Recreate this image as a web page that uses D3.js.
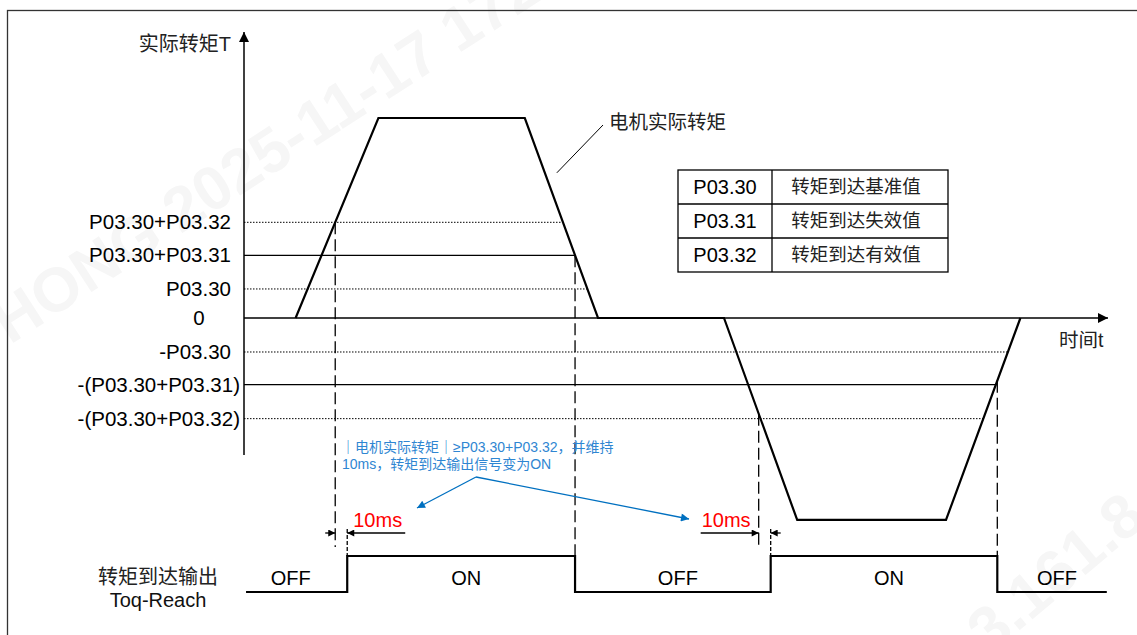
<!DOCTYPE html>
<html>
<head>
<meta charset="utf-8">
<script src="https://cdn.jsdelivr.net/npm/d3@7"></script>
<style>
  body { margin: 0; background: #fff; }
  text { font-family: "Liberation Sans", Arial, "Noto Sans CJK SC", sans-serif; }
</style>
</head>
<body>
<script>
// torque levels (arbitrary torque units)
var levelNames = ["P03.30+P03.32", "P03.30+P03.31", "P03.30", "0",
                  "-P03.30", "-(P03.30+P03.31)", "-(P03.30+P03.32)"];
var levelValues = [2.9, 1.9, 0.88, 0, -1.03, -2.02, -3.05];

// motor torque curve, time in ms
var torqueTime  = [43, 112, 234, 295, 400, 461, 585, 647];
var torqueValue = [0, 6.06, 6.06, 0, 0, -6.12, -6.12, 0];

var delayMs = 10;
var onLevel = 2.9;    // P03.30+P03.32
var offLevel = 1.9;   // P03.30+P03.31

var tableParams = ["P03.30", "P03.31", "P03.32"];
var tableDescs  = ["转矩到达基准值", "转矩到达失效值", "转矩到达有效值"];

var W = 1137, H = 635;

var svg = d3.select("body").append("svg")
    .attr("width", W)
    .attr("height", H);

var x = d3.scaleLinear().domain([0, 720]).range([244, 1108]);
var y = d3.scaleLinear().domain([0, 1]).range([318, 285]);
var ySig = d3.scaleLinear().domain([0, 1]).range([592, 556]);

// faint watermark
svg.append("text")
    .attr("transform", "translate(10,345) rotate(-33)")
    .attr("font-size", 62)
    .attr("font-weight", "bold")
    .attr("fill", "#f6f6f6")
    .text("HONG 2025-11-17 172");
svg.append("text")
    .attr("transform", "translate(990,655) rotate(-40)")
    .attr("font-size", 62)
    .attr("font-weight", "bold")
    .attr("fill", "#f6f6f6")
    .text("3.161.8.1");

// outer frame
svg.append("rect")
    .attr("x", 7.5).attr("y", 10.5)
    .attr("width", W + 20).attr("height", H + 20)
    .attr("fill", "none")
    .attr("stroke", "#333")
    .attr("stroke-width", 1.3);

var defs = svg.append("defs");
function marker(id, color, w, h) {
  defs.append("marker")
      .attr("id", id)
      .attr("viewBox", "0 0 10 10")
      .attr("refX", 10).attr("refY", 5)
      .attr("markerUnits", "userSpaceOnUse")
      .attr("markerWidth", w).attr("markerHeight", h)
      .attr("orient", "auto")
    .append("path")
      .attr("d", "M0,0L10,5L0,10Z")
      .attr("fill", color);
}
marker("axArrow", "#000", 12, 10);
marker("smArrow", "#000", 8, 7);
marker("blArrow", "#0070c0", 10, 8);

// crossing time of a level on segment i of the torque curve
function crossing(v, i) {
  var v0 = torqueValue[i], v1 = torqueValue[i + 1];
  var t0 = torqueTime[i], t1 = torqueTime[i + 1];
  return t0 + (v - v0) / (v1 - v0) * (t1 - t0);
}

// level lines, from the axis to the last edge they meet
levelValues.forEach(function(v, i) {
  var name = levelNames[i];
  var solid = name.indexOf("P03.31") >= 0;
  if (v !== 0) {
    var tEnd = v > 0 ? crossing(v, 2) : crossing(v, 6);
    svg.append("line")
        .attr("x1", x(0)).attr("x2", x(tEnd))
        .attr("y1", y(v)).attr("y2", y(v))
        .attr("stroke", "#000")
        .attr("stroke-width", solid ? 1.2 : 1)
        .attr("stroke-dasharray", solid ? null : "1.5,1.5");
  }
  var lab = svg.append("text")
      .attr("y", y(v))
      .attr("dy", "0.35em")
      .attr("font-size", 20.5)
      .text(name);
  if (v === 0) {
    lab.attr("x", 199).attr("text-anchor", "middle");
  } else {
    lab.attr("x", name.indexOf("(") >= 0 ? 240 : 231).attr("text-anchor", "end");
  }
});

// axes
svg.append("line")
    .attr("x1", x(0)).attr("x2", x(0))
    .attr("y1", 455).attr("y2", 32)
    .attr("stroke", "#000").attr("stroke-width", 1.5)
    .attr("marker-end", "url(#axArrow)");
svg.append("line")
    .attr("x1", x(0)).attr("x2", x(720))
    .attr("y1", y(0)).attr("y2", y(0))
    .attr("stroke", "#000").attr("stroke-width", 1.5)
    .attr("marker-end", "url(#axArrow)");
svg.append("text")
    .attr("x", 231).attr("y", 44).attr("dy", "0.35em")
    .attr("text-anchor", "end").attr("font-size", 20).attr("fill", "#222")
    .text("实际转矩T");
svg.append("text")
    .attr("x", 1059).attr("y", 340).attr("dy", "0.35em")
    .attr("font-size", 19.5).attr("fill", "#222")
    .text("时间t");

// torque curve
var torqueLine = d3.line()
    .x(function(d, i) { return x(torqueTime[i]); })
    .y(function(d) { return y(d); });
svg.append("path")
    .datum(torqueValue)
    .attr("d", torqueLine)
    .attr("fill", "none")
    .attr("stroke", "#000")
    .attr("stroke-width", 2.2)
    .attr("stroke-linejoin", "miter");

// leader to curve label
var tLead = crossing(4.4, 2);
svg.append("line")
    .attr("x1", x(tLead) + 12).attr("y1", y(4.4))
    .attr("x2", 603).attr("y2", 125)
    .attr("stroke", "#000").attr("stroke-width", 1);
svg.append("text")
    .attr("x", 609).attr("y", 122).attr("dy", "0.35em")
    .attr("font-size", 19.5).attr("fill", "#222")
    .text("电机实际转矩");

// switching events
var tOn1 = crossing(onLevel, 0);
var tOff1 = crossing(offLevel, 2);
var tOn2 = crossing(-onLevel, 4);
var tOff2 = crossing(-offLevel, 6);
var tStart = 1.7, tEnd = 719;
var sigTimes = [tStart, tOn1 + delayMs, tOff1, tOn2 + delayMs, tOff2, tEnd];
var sigStates = [0, 1, 0, 1, 0];

var sigPts = [];
sigStates.forEach(function(s, i) {
  sigPts.push([sigTimes[i], s]);
  sigPts.push([sigTimes[i + 1], s]);
});
svg.append("path")
    .datum(sigPts)
    .attr("d", d3.line()
        .x(function(d) { return x(d[0]); })
        .y(function(d) { return ySig(d[1]); }))
    .attr("fill", "none")
    .attr("stroke", "#000")
    .attr("stroke-width", 2.2);

sigStates.forEach(function(s, i) {
  svg.append("text")
      .attr("x", x((sigTimes[i] + sigTimes[i + 1]) / 2) + (i === 0 ? -6 : 5))
      .attr("y", 578).attr("dy", "0.35em")
      .attr("text-anchor", "middle")
      .attr("font-size", 20)
      .text(s ? "ON" : "OFF");
});

svg.append("text")
    .attr("x", 158).attr("y", 577).attr("dy", "0.35em")
    .attr("text-anchor", "middle").attr("font-size", 20).attr("fill", "#222")
    .text("转矩到达输出");
svg.append("text")
    .attr("x", 158).attr("y", 600).attr("dy", "0.35em")
    .attr("text-anchor", "middle").attr("font-size", 20).attr("fill", "#111")
    .text("Toq-Reach");

// dashed guides
var dashed = [
  [tOn1, y(onLevel), 547],
  [tOn1 + delayMs, 529, ySig(1)],
  [tOff1, y(offLevel), ySig(1)],
  [tOn2, y(-onLevel), 547],
  [tOn2 + delayMs, 529, ySig(1)],
  [tOff2, y(-offLevel), ySig(1)]
];
dashed.forEach(function(d, i) {
  svg.append("line")
      .attr("x1", x(d[0])).attr("x2", x(d[0]))
      .attr("y1", d[1]).attr("y2", d[2])
      .attr("stroke", "#000")
      .attr("stroke-width", 1.3)
      .attr("stroke-dasharray", i % 3 === 1 ? "4,2" : "12,5");
});

// 10ms dimension marks
var arrowY = 533;
function dim(t, longLeft) {
  var a = x(t), b = x(t + delayMs);
  var lenA = longLeft ? 58 : 10, lenB = longLeft ? 10 : 58;
  svg.append("line")
      .attr("x1", a - lenA).attr("x2", a)
      .attr("y1", arrowY).attr("y2", arrowY)
      .attr("stroke", "#000").attr("stroke-width", 1.3)
      .attr("marker-end", "url(#smArrow)");
  svg.append("line")
      .attr("x1", b + lenB).attr("x2", b)
      .attr("y1", arrowY).attr("y2", arrowY)
      .attr("stroke", "#000").attr("stroke-width", 1.3)
      .attr("marker-end", "url(#smArrow)");
  svg.append("text")
      .attr("x", longLeft ? a - lenA + 1 : b + 6)
      .attr("y", 527)
      .attr("font-size", 20)
      .attr("fill", "#ff0000")
      .text(delayMs + "ms");
}
dim(tOn1, false);
dim(tOn2, true);

// blue note
var note = svg.append("text")
    .attr("font-size", 14)
    .attr("fill", "#2f86d2");
note.append("tspan").attr("x", 341).attr("y", 452)
    .text("｜电机实际转矩｜≥P03.30+P03.32，并维持");
note.append("tspan").attr("x", 342).attr("y", 469)
    .text("10ms，转矩到达输出信号变为ON");
[[417, 508], [689, 519]].forEach(function(p) {
  svg.append("line")
      .attr("x1", 476).attr("y1", 477)
      .attr("x2", p[0]).attr("y2", p[1])
      .attr("stroke", "#0070c0").attr("stroke-width", 1.3)
      .attr("marker-end", "url(#blArrow)");
});

// parameter table
var rowH = 34, tx0 = 678, tx1 = 772, tx2 = 948, ty0 = 170;
var rowY = d3.scaleBand().domain(tableParams).range([ty0, ty0 + rowH * tableParams.length]);
var tbl = svg.append("g");
tbl.append("rect")
    .attr("x", tx0).attr("y", ty0)
    .attr("width", tx2 - tx0).attr("height", rowH * tableParams.length)
    .attr("fill", "#fff").attr("stroke", "#000").attr("stroke-width", 1.3);
tbl.append("line")
    .attr("x1", tx1).attr("x2", tx1)
    .attr("y1", ty0).attr("y2", ty0 + rowH * tableParams.length)
    .attr("stroke", "#000").attr("stroke-width", 1.3);
tableParams.forEach(function(p, i) {
  if (i > 0) {
    tbl.append("line")
        .attr("x1", tx0).attr("x2", tx2)
        .attr("y1", rowY(p)).attr("y2", rowY(p))
        .attr("stroke", "#000").attr("stroke-width", 1.3);
  }
  tbl.append("text")
      .attr("x", (tx0 + tx1) / 2).attr("y", rowY(p) + rowH / 2).attr("dy", "0.35em")
      .attr("text-anchor", "middle").attr("font-size", 20)
      .text(p);
  tbl.append("text")
      .attr("x", (tx1 + tx2) / 2 - 4).attr("y", rowY(p) + rowH / 2).attr("dy", "0.35em")
      .attr("text-anchor", "middle").attr("font-size", 18.5).attr("fill", "#222")
      .text(tableDescs[i]);
});
</script>
</body>
</html>
